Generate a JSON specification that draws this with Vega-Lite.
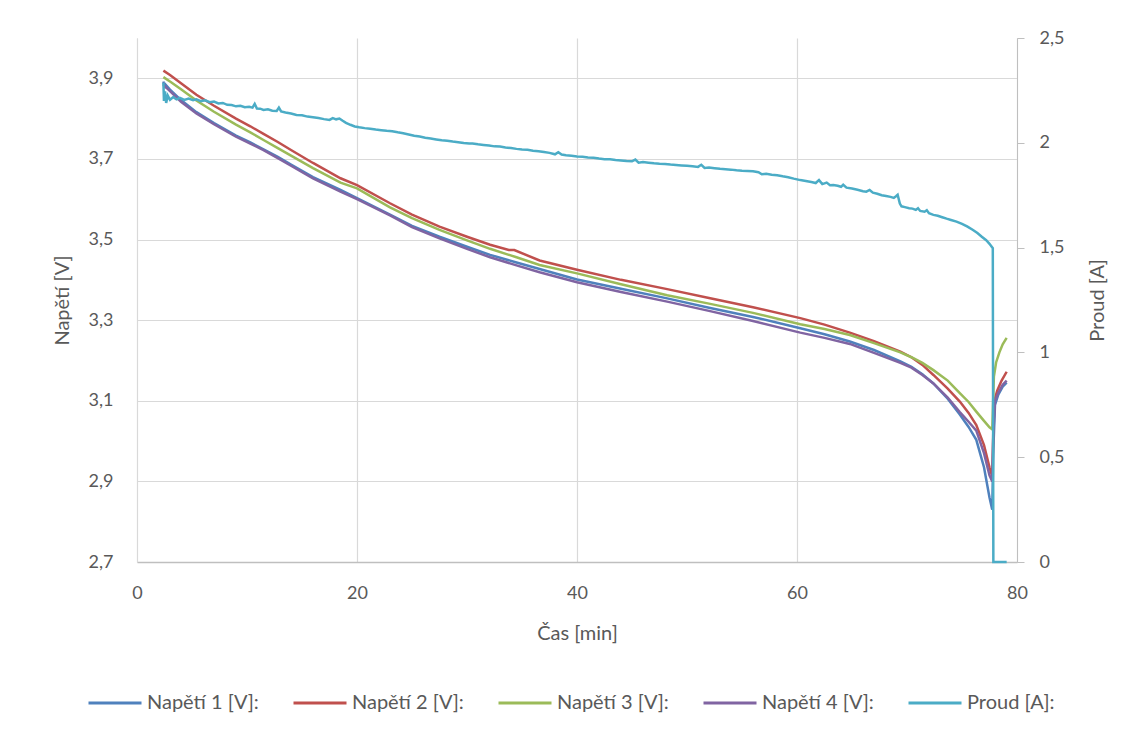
{
 "$schema": "https://vega.github.io/schema/vega-lite/v6.json",
 "autosize": {"type": "none"},
 "width": 880,
 "height": 524,
 "padding": {"left": 137, "top": 38, "right": 124, "bottom": 174},
 "background": "white",
 "config": {
  "font": "Lato",
  "view": {"stroke": null},
  "axis": {"labelColor": "#595959", "titleColor": "#595959", "labelFont": "Lato", "titleFont": "Lato", "labelFontSize": 18, "titleFontSize": 20, "titleFontWeight": "normal", "gridColor": "#d9d9d9", "gridWidth": 1.2, "domainColor": "#bfbfbf", "tickColor": "#bfbfbf", "labelFlush": false},
  "legend": {"labelColor": "#595959", "labelFont": "Lato", "labelFontSize": 20}
 },
 "datasets": {
  "volt": [
   {"t": 2.4, "s": "n1", "v": 3.892}, {"t": 2.5, "s": "n1", "v": 3.876}, {"t": 2.6, "s": "n1", "v": 3.884}, {"t": 3, "s": "n1", "v": 3.872}, {"t": 4, "s": "n1", "v": 3.846}, {"t": 5.4, "s": "n1", "v": 3.816}, {"t": 7, "s": "n1", "v": 3.789}, {"t": 9, "s": "n1", "v": 3.758}, {"t": 10.3, "s": "n1", "v": 3.741}, {"t": 11.5, "s": "n1", "v": 3.724}, {"t": 12.8, "s": "n1", "v": 3.705}, {"t": 14, "s": "n1", "v": 3.686}, {"t": 16, "s": "n1", "v": 3.655}, {"t": 18.5, "s": "n1", "v": 3.623}, {"t": 20, "s": "n1", "v": 3.603}, {"t": 23, "s": "n1", "v": 3.562}, {"t": 25, "s": "n1", "v": 3.534}, {"t": 27.5, "s": "n1", "v": 3.507}, {"t": 30, "s": "n1", "v": 3.482}, {"t": 32.1, "s": "n1", "v": 3.462}, {"t": 34.5, "s": "n1", "v": 3.443}, {"t": 36.6, "s": "n1", "v": 3.427}, {"t": 40, "s": "n1", "v": 3.401}, {"t": 44, "s": "n1", "v": 3.378}, {"t": 48.2, "s": "n1", "v": 3.354}, {"t": 52, "s": "n1", "v": 3.331}, {"t": 56, "s": "n1", "v": 3.308}, {"t": 60.3, "s": "n1", "v": 3.28}, {"t": 62.5, "s": "n1", "v": 3.265}, {"t": 64.8, "s": "n1", "v": 3.247}, {"t": 67, "s": "n1", "v": 3.226}, {"t": 69.4, "s": "n1", "v": 3.198}, {"t": 70.4, "s": "n1", "v": 3.184}, {"t": 71.4, "s": "n1", "v": 3.166}, {"t": 72.4, "s": "n1", "v": 3.143}, {"t": 73.7, "s": "n1", "v": 3.105}, {"t": 74.8, "s": "n1", "v": 3.066}, {"t": 75.6, "s": "n1", "v": 3.035}, {"t": 76.3, "s": "n1", "v": 3.003}, {"t": 77, "s": "n1", "v": 2.935}, {"t": 77.5, "s": "n1", "v": 2.86}, {"t": 77.75, "s": "n1", "v": 2.83}, {"t": 77.85, "s": "n1", "v": 2.98}, {"t": 78.0, "s": "n1", "v": 3.09}, {"t": 78.3, "s": "n1", "v": 3.115}, {"t": 78.7, "s": "n1", "v": 3.135}, {"t": 79.06, "s": "n1", "v": 3.145},

   {"t": 2.4, "s": "n2", "v": 3.919}, {"t": 3, "s": "n2", "v": 3.908}, {"t": 4, "s": "n2", "v": 3.888}, {"t": 5.4, "s": "n2", "v": 3.859}, {"t": 7, "s": "n2", "v": 3.832}, {"t": 9, "s": "n2", "v": 3.8}, {"t": 10.3, "s": "n2", "v": 3.781}, {"t": 11.5, "s": "n2", "v": 3.762}, {"t": 12.8, "s": "n2", "v": 3.742}, {"t": 14, "s": "n2", "v": 3.722}, {"t": 16, "s": "n2", "v": 3.69}, {"t": 18.5, "s": "n2", "v": 3.652}, {"t": 20, "s": "n2", "v": 3.635}, {"t": 23, "s": "n2", "v": 3.59}, {"t": 25, "s": "n2", "v": 3.562}, {"t": 27.5, "s": "n2", "v": 3.532}, {"t": 30, "s": "n2", "v": 3.507}, {"t": 32.1, "s": "n2", "v": 3.487}, {"t": 33.8, "s": "n2", "v": 3.474}, {"t": 34.3, "s": "n2", "v": 3.474}, {"t": 36.6, "s": "n2", "v": 3.448}, {"t": 40, "s": "n2", "v": 3.425}, {"t": 44, "s": "n2", "v": 3.4}, {"t": 48.2, "s": "n2", "v": 3.377}, {"t": 52, "s": "n2", "v": 3.355}, {"t": 56, "s": "n2", "v": 3.332}, {"t": 60.3, "s": "n2", "v": 3.305}, {"t": 62.5, "s": "n2", "v": 3.289}, {"t": 64.8, "s": "n2", "v": 3.269}, {"t": 67, "s": "n2", "v": 3.248}, {"t": 69.4, "s": "n2", "v": 3.222}, {"t": 70.4, "s": "n2", "v": 3.208}, {"t": 71.4, "s": "n2", "v": 3.189}, {"t": 72.4, "s": "n2", "v": 3.164}, {"t": 73.7, "s": "n2", "v": 3.13}, {"t": 74.8, "s": "n2", "v": 3.098}, {"t": 75.6, "s": "n2", "v": 3.07}, {"t": 76.3, "s": "n2", "v": 3.04}, {"t": 77, "s": "n2", "v": 2.99}, {"t": 77.5, "s": "n2", "v": 2.935}, {"t": 77.75, "s": "n2", "v": 2.912}, {"t": 77.85, "s": "n2", "v": 3.03}, {"t": 77.95, "s": "n2", "v": 3.1}, {"t": 78.2, "s": "n2", "v": 3.125}, {"t": 78.6, "s": "n2", "v": 3.15}, {"t": 79.06, "s": "n2", "v": 3.172},

   {"t": 2.4, "s": "n3", "v": 3.903}, {"t": 3, "s": "n3", "v": 3.892}, {"t": 4, "s": "n3", "v": 3.873}, {"t": 5.4, "s": "n3", "v": 3.845}, {"t": 7, "s": "n3", "v": 3.817}, {"t": 9, "s": "n3", "v": 3.785}, {"t": 10.3, "s": "n3", "v": 3.766}, {"t": 11.5, "s": "n3", "v": 3.747}, {"t": 12.8, "s": "n3", "v": 3.727}, {"t": 14, "s": "n3", "v": 3.708}, {"t": 16, "s": "n3", "v": 3.677}, {"t": 18.5, "s": "n3", "v": 3.641}, {"t": 20, "s": "n3", "v": 3.627}, {"t": 23, "s": "n3", "v": 3.58}, {"t": 25, "s": "n3", "v": 3.553}, {"t": 27.5, "s": "n3", "v": 3.524}, {"t": 30, "s": "n3", "v": 3.498}, {"t": 32.1, "s": "n3", "v": 3.477}, {"t": 34.5, "s": "n3", "v": 3.456}, {"t": 36.6, "s": "n3", "v": 3.437}, {"t": 40, "s": "n3", "v": 3.416}, {"t": 44, "s": "n3", "v": 3.389}, {"t": 48.2, "s": "n3", "v": 3.362}, {"t": 52, "s": "n3", "v": 3.341}, {"t": 56, "s": "n3", "v": 3.318}, {"t": 60.3, "s": "n3", "v": 3.29}, {"t": 62.5, "s": "n3", "v": 3.278}, {"t": 64.8, "s": "n3", "v": 3.263}, {"t": 67, "s": "n3", "v": 3.243}, {"t": 69.4, "s": "n3", "v": 3.22}, {"t": 70.4, "s": "n3", "v": 3.208}, {"t": 71.4, "s": "n3", "v": 3.194}, {"t": 72.4, "s": "n3", "v": 3.176}, {"t": 73.7, "s": "n3", "v": 3.15}, {"t": 74.8, "s": "n3", "v": 3.119}, {"t": 75.6, "s": "n3", "v": 3.097}, {"t": 76.3, "s": "n3", "v": 3.073}, {"t": 77, "s": "n3", "v": 3.05}, {"t": 77.5, "s": "n3", "v": 3.034}, {"t": 77.75, "s": "n3", "v": 3.029}, {"t": 77.9, "s": "n3", "v": 3.16}, {"t": 78.1, "s": "n3", "v": 3.195}, {"t": 78.4, "s": "n3", "v": 3.22}, {"t": 78.7, "s": "n3", "v": 3.24}, {"t": 79.06, "s": "n3", "v": 3.256},

   {"t": 2.4, "s": "n4", "v": 3.884}, {"t": 3, "s": "n4", "v": 3.868}, {"t": 4, "s": "n4", "v": 3.842}, {"t": 5.4, "s": "n4", "v": 3.813}, {"t": 7, "s": "n4", "v": 3.786}, {"t": 9, "s": "n4", "v": 3.755}, {"t": 10.3, "s": "n4", "v": 3.738}, {"t": 11.5, "s": "n4", "v": 3.722}, {"t": 12.8, "s": "n4", "v": 3.702}, {"t": 14, "s": "n4", "v": 3.683}, {"t": 16, "s": "n4", "v": 3.652}, {"t": 18.5, "s": "n4", "v": 3.619}, {"t": 20, "s": "n4", "v": 3.6}, {"t": 23, "s": "n4", "v": 3.56}, {"t": 25, "s": "n4", "v": 3.531}, {"t": 27.5, "s": "n4", "v": 3.503}, {"t": 30, "s": "n4", "v": 3.477}, {"t": 32.1, "s": "n4", "v": 3.456}, {"t": 34.5, "s": "n4", "v": 3.436}, {"t": 36.6, "s": "n4", "v": 3.419}, {"t": 40, "s": "n4", "v": 3.394}, {"t": 44, "s": "n4", "v": 3.37}, {"t": 48.2, "s": "n4", "v": 3.346}, {"t": 52, "s": "n4", "v": 3.323}, {"t": 56, "s": "n4", "v": 3.298}, {"t": 60.3, "s": "n4", "v": 3.269}, {"t": 62.5, "s": "n4", "v": 3.256}, {"t": 64.8, "s": "n4", "v": 3.241}, {"t": 67, "s": "n4", "v": 3.219}, {"t": 69.4, "s": "n4", "v": 3.194}, {"t": 70.4, "s": "n4", "v": 3.182}, {"t": 71.4, "s": "n4", "v": 3.164}, {"t": 72.4, "s": "n4", "v": 3.143}, {"t": 73.7, "s": "n4", "v": 3.108}, {"t": 74.8, "s": "n4", "v": 3.072}, {"t": 75.6, "s": "n4", "v": 3.048}, {"t": 76.3, "s": "n4", "v": 3.026}, {"t": 77, "s": "n4", "v": 2.97}, {"t": 77.5, "s": "n4", "v": 2.915}, {"t": 77.75, "s": "n4", "v": 2.9}, {"t": 77.85, "s": "n4", "v": 3.02}, {"t": 78.0, "s": "n4", "v": 3.1}, {"t": 78.3, "s": "n4", "v": 3.12}, {"t": 78.7, "s": "n4", "v": 3.14}, {"t": 79.06, "s": "n4", "v": 3.15}
  ],
  "cur": [
   {"t": 2.4, "i": 2.285}, {"t": 2.45, "i": 2.2}, {"t": 2.55, "i": 2.245}, {"t": 2.65, "i": 2.19}, {"t": 2.8, "i": 2.225}, {"t": 3.0, "i": 2.205}, {"t": 3.3, "i": 2.218}, {"t": 3.6, "i": 2.207}, {"t": 3.9, "i": 2.214}, {"t": 4.3, "i": 2.205}, {"t": 4.7, "i": 2.211}, {"t": 5.1, "i": 2.203}, {"t": 5.4, "i": 2.207}, {"t": 5.8, "i": 2.199}, {"t": 6.2, "i": 2.203}, {"t": 6.6, "i": 2.194}, {"t": 7.0, "i": 2.197}, {"t": 7.4, "i": 2.188}, {"t": 7.8, "i": 2.19}, {"t": 8.2, "i": 2.181}, {"t": 8.6, "i": 2.18}, {"t": 9.0, "i": 2.174}, {"t": 9.4, "i": 2.177}, {"t": 9.8, "i": 2.17}, {"t": 10.2, "i": 2.172}, {"t": 10.5, "i": 2.168}, {"t": 10.7, "i": 2.186}, {"t": 10.9, "i": 2.164}, {"t": 11.2, "i": 2.163}, {"t": 11.5, "i": 2.157}, {"t": 11.9, "i": 2.16}, {"t": 12.3, "i": 2.153}, {"t": 12.7, "i": 2.152}, {"t": 12.9, "i": 2.168}, {"t": 13.1, "i": 2.15}, {"t": 13.5, "i": 2.145}, {"t": 14.0, "i": 2.14}, {"t": 14.5, "i": 2.133}, {"t": 15.0, "i": 2.131}, {"t": 15.5, "i": 2.125}, {"t": 16.0, "i": 2.122}, {"t": 16.5, "i": 2.118}, {"t": 17.0, "i": 2.113}, {"t": 17.5, "i": 2.109}, {"t": 17.8, "i": 2.118}, {"t": 18.1, "i": 2.112}, {"t": 18.4, "i": 2.116}, {"t": 18.7, "i": 2.105}, {"t": 19.0, "i": 2.095}, {"t": 19.4, "i": 2.086}, {"t": 19.8, "i": 2.078}, {"t": 20.2, "i": 2.074}, {"t": 20.7, "i": 2.07}, {"t": 21.2, "i": 2.067}, {"t": 21.7, "i": 2.063}, {"t": 22.2, "i": 2.06}, {"t": 22.7, "i": 2.057}, {"t": 23.2, "i": 2.055}, {"t": 23.7, "i": 2.05}, {"t": 24.2, "i": 2.046}, {"t": 24.7, "i": 2.04}, {"t": 25.2, "i": 2.034}, {"t": 25.7, "i": 2.03}, {"t": 26.2, "i": 2.024}, {"t": 26.7, "i": 2.02}, {"t": 27.2, "i": 2.016}, {"t": 27.7, "i": 2.012}, {"t": 28.2, "i": 2.01}, {"t": 28.7, "i": 2.006}, {"t": 29.2, "i": 2.003}, {"t": 29.7, "i": 1.999}, {"t": 30.2, "i": 1.997}, {"t": 30.5, "i": 1.997}, {"t": 31, "i": 1.993}, {"t": 31.5, "i": 1.99}, {"t": 32, "i": 1.987}, {"t": 32.5, "i": 1.983}, {"t": 33, "i": 1.982}, {"t": 33.5, "i": 1.978}, {"t": 34, "i": 1.975}, {"t": 34.5, "i": 1.971}, {"t": 35, "i": 1.968}, {"t": 35.5, "i": 1.967}, {"t": 36, "i": 1.962}, {"t": 36.5, "i": 1.96}, {"t": 37, "i": 1.956}, {"t": 37.5, "i": 1.952}, {"t": 38, "i": 1.945}, {"t": 38.3, "i": 1.955}, {"t": 38.6, "i": 1.944}, {"t": 39, "i": 1.941}, {"t": 39.5, "i": 1.938}, {"t": 40, "i": 1.935}, {"t": 40.5, "i": 1.933}, {"t": 41, "i": 1.93}, {"t": 41.5, "i": 1.929}, {"t": 42, "i": 1.925}, {"t": 42.5, "i": 1.922}, {"t": 43, "i": 1.921}, {"t": 43.5, "i": 1.918}, {"t": 44, "i": 1.916}, {"t": 44.5, "i": 1.913}, {"t": 45, "i": 1.912}, {"t": 45.3, "i": 1.92}, {"t": 45.6, "i": 1.905}, {"t": 46, "i": 1.908}, {"t": 46.5, "i": 1.905}, {"t": 47, "i": 1.902}, {"t": 47.5, "i": 1.9}, {"t": 48, "i": 1.899}, {"t": 48.5, "i": 1.896}, {"t": 49, "i": 1.894}, {"t": 49.5, "i": 1.892}, {"t": 50, "i": 1.89}, {"t": 50.5, "i": 1.888}, {"t": 51, "i": 1.885}, {"t": 51.3, "i": 1.895}, {"t": 51.6, "i": 1.88}, {"t": 52, "i": 1.882}, {"t": 52.5, "i": 1.879}, {"t": 53, "i": 1.876}, {"t": 53.5, "i": 1.874}, {"t": 54, "i": 1.872}, {"t": 54.5, "i": 1.869}, {"t": 55, "i": 1.867}, {"t": 55.5, "i": 1.866}, {"t": 56, "i": 1.864}, {"t": 56.5, "i": 1.86}, {"t": 56.8, "i": 1.85}, {"t": 57.2, "i": 1.852}, {"t": 57.7, "i": 1.848}, {"t": 58.2, "i": 1.845}, {"t": 58.7, "i": 1.84}, {"t": 59.2, "i": 1.836}, {"t": 59.7, "i": 1.829}, {"t": 60.3, "i": 1.822}, {"t": 60.8, "i": 1.818}, {"t": 61.3, "i": 1.813}, {"t": 61.7, "i": 1.808}, {"t": 62.0, "i": 1.822}, {"t": 62.3, "i": 1.803}, {"t": 62.7, "i": 1.81}, {"t": 63.0, "i": 1.798}, {"t": 63.3, "i": 1.799}, {"t": 63.7, "i": 1.795}, {"t": 64.0, "i": 1.79}, {"t": 64.2, "i": 1.8}, {"t": 64.5, "i": 1.786}, {"t": 65.0, "i": 1.782}, {"t": 65.5, "i": 1.776}, {"t": 66.0, "i": 1.769}, {"t": 66.3, "i": 1.767}, {"t": 66.6, "i": 1.775}, {"t": 66.9, "i": 1.762}, {"t": 67.3, "i": 1.757}, {"t": 67.7, "i": 1.75}, {"t": 68.1, "i": 1.746}, {"t": 68.5, "i": 1.742}, {"t": 68.8, "i": 1.737}, {"t": 69.0, "i": 1.745}, {"t": 69.15, "i": 1.752}, {"t": 69.35, "i": 1.71}, {"t": 69.5, "i": 1.697}, {"t": 69.8, "i": 1.693}, {"t": 70.2, "i": 1.688}, {"t": 70.5, "i": 1.686}, {"t": 70.8, "i": 1.68}, {"t": 71.0, "i": 1.688}, {"t": 71.2, "i": 1.675}, {"t": 71.6, "i": 1.671}, {"t": 71.8, "i": 1.678}, {"t": 72.0, "i": 1.664}, {"t": 72.4, "i": 1.656}, {"t": 72.8, "i": 1.652}, {"t": 73.2, "i": 1.645}, {"t": 73.6, "i": 1.638}, {"t": 74.0, "i": 1.632}, {"t": 74.5, "i": 1.624}, {"t": 75.0, "i": 1.613}, {"t": 75.5, "i": 1.6}, {"t": 76.0, "i": 1.584}, {"t": 76.4, "i": 1.57}, {"t": 76.8, "i": 1.552}, {"t": 77.2, "i": 1.535}, {"t": 77.5, "i": 1.518}, {"t": 77.8, "i": 1.497}, {"t": 77.85, "i": 0}, {"t": 79.06, "i": 0}
  ]
 },
 "layer": [
  {
   "data": {"name": "volt"},
   "mark": {"type": "line", "strokeWidth": 2.5},
   "encoding": {
    "x": {"field": "t", "type": "quantitative", "scale": {"domain": [0, 80], "nice": false, "zero": false},
          "axis": {"title": "Čas [min]", "values": [0, 20, 40, 60, 80], "ticks": false, "grid": true, "labelPadding": 22, "titleY": 71, "titleBaseline": "middle", "domainWidth": 1.5}},
    "y": {"field": "v", "type": "quantitative", "scale": {"domain": [2.7, 4.0], "nice": false, "zero": false},
          "axis": {"title": "Napětí [V]", "values": [2.7, 2.9, 3.1, 3.3, 3.5, 3.7, 3.9], "labelExpr": "replace(format(datum.value, '.1f'), '.', ',')", "ticks": false, "grid": true, "domainColor": "#d9d9d9", "labelPadding": 24, "titleX": -75, "titleY": 262, "titleBaseline": "middle"}},
    "color": {"field": "s", "type": "nominal",
              "scale": {"domain": ["n1", "n2", "n3", "n4", "p"], "range": ["#4F81BD", "#C0504D", "#9BBB59", "#8064A2", "#4BACC6"]},
              "legend": {"orient": "none", "legendX": -50, "legendY": 637, "direction": "horizontal", "title": null, "symbolType": "stroke", "symbolSize": 2809, "symbolStrokeWidth": 3, "labelOffset": 4, "columnPadding": 28,
                         "labelExpr": "{'n1': 'Napětí 1 [V]:', 'n2': 'Napětí 2 [V]:', 'n3': 'Napětí 3 [V]:', 'n4': 'Napětí 4 [V]:', 'p': 'Proud [A]:'}[datum.label]"}}
   }
  },
  {
   "data": {"name": "cur"},
   "mark": {"type": "line", "strokeWidth": 2.5, "color": "#4BACC6"},
   "encoding": {
    "x": {"field": "t", "type": "quantitative",
          "axis": {"title": "Čas [min]", "values": [0, 20, 40, 60, 80], "ticks": false, "grid": true, "labelPadding": 22, "titleY": 71, "titleBaseline": "middle", "domainWidth": 1.5}},
    "y": {"field": "i", "type": "quantitative", "scale": {"domain": [0, 2.5], "nice": false, "zero": false},
          "axis": {"orient": "right", "title": "Proud [A]", "values": [0, 0.5, 1, 1.5, 2, 2.5], "labelExpr": "replace(format(datum.value, '~g'), '.', ',')", "grid": false, "ticks": true, "tickSize": 7, "labelPadding": 15, "titleAngle": -90, "titleX": 80, "titleY": 262, "titleBaseline": "middle"}}
   }
  }
 ],
 "resolve": {"scale": {"y": "independent"}}
}
